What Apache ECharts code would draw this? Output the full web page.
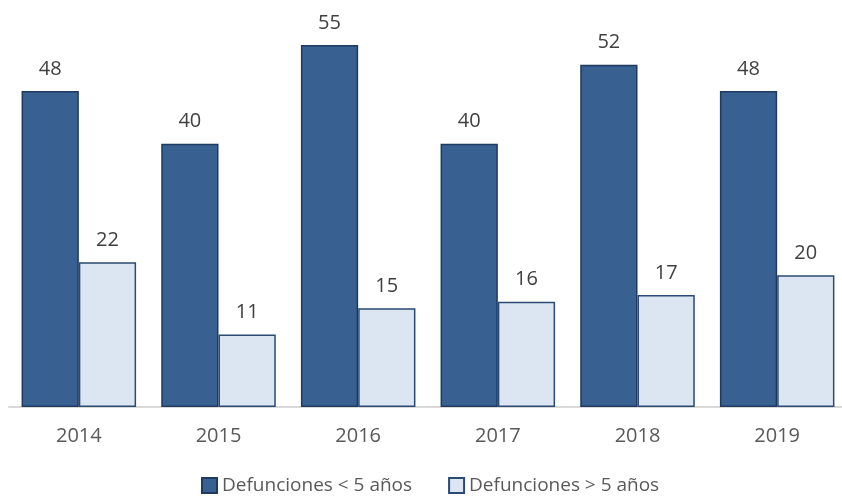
<!DOCTYPE html>
<html>
<head>
<meta charset="utf-8">
<script src="https://cdn.jsdelivr.net/npm/echarts@6/dist/echarts.min.js"></script>
<style>
  html, body { margin: 0; padding: 0; background: #fff; overflow: hidden; }
  #chart { width: 848px; height: 496px; }
</style>
</head>
<body>
<div id="chart"></div>
<script>
const years = ['2014', '2015', '2016', '2017', '2018', '2019']
const menores5 = [48, 40, 55, 40, 52, 48]
const mayores5 = [22, 11, 15, 16, 17, 20]

const font = 'Open Sans, Liberation Sans, sans-serif'
const chart = echarts.init(document.getElementById('chart'))

chart.setOption({
  backgroundColor: '#fff',
  animation: false,
  grid: { left: 9, right: 1, top: 12, bottom: 89 },
  legend: {
    top: 471,
    left: 196,
    itemWidth: 15,
    itemHeight: 15,
    itemGap: 36,
    icon: 'rect',
    textStyle: { color: '#595959', fontSize: 19, fontFamily: font },
  },
  xAxis: {
    type: 'category',
    data: years,
    axisLine: { lineStyle: { color: '#d9d9d9', width: 2 } },
    axisTick: { show: false },
    axisLabel: { color: '#595959', fontSize: 20, fontFamily: font, margin: 19 },
  },
  yAxis: {
    type: 'value',
    min: 0,
    max: 60,
    show: false,
  },
  series: [
    {
      name: 'Defunciones < 5 años',
      type: 'bar',
      data: menores5,
      barGap: 0,
      barCategoryGap: '18%',
      itemStyle: { color: '#386192', borderColor: '#1f3a5f', borderWidth: 1.5 },
      label: { show: true, position: 'top', distance: 12, color: '#404040', fontSize: 20, fontFamily: font },
    },
    {
      name: 'Defunciones > 5 años',
      type: 'bar',
      data: mayores5,
      itemStyle: { color: '#dce6f2', borderColor: '#2a4a72', borderWidth: 1.5 },
      label: { show: true, position: 'top', distance: 12, color: '#404040', fontSize: 20, fontFamily: font },
    },
  ],
})
</script>
</body>
</html>
